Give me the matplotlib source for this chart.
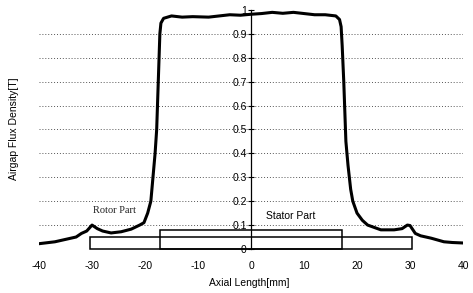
from matplotlib import pyplot as plt
from matplotlib.patches import Rectangle

# airgap flux density along the axial direction
AXIAL = [-40, -37, -35, -33, -32, -31, -30, -29, -28, -26.4, -24.5, -22.6,
         -21, -20.2, -19.5, -18.9, -18.5, -18.1, -17.8, -17.5, -17.2, -17.0,
         -16.5, -15, -13, -11, -8, -6, -4, -2, 0, 2, 4, 6, 8, 10, 12, 14, 16,
         16.7, 17.0, 17.2, 17.5, 17.9, 18.3, 18.8, 19.2, 20, 21, 22, 24.5, 27,
         28.5, 29.5, 30, 31, 32, 34, 36.4, 38, 40]
FLUX = [0.022, 0.03, 0.04, 0.05, 0.065, 0.075, 0.1, 0.085, 0.075, 0.067,
        0.072, 0.083, 0.1, 0.11, 0.15, 0.2, 0.3, 0.4, 0.5, 0.7, 0.9, 0.945,
        0.965, 0.975, 0.97, 0.972, 0.97, 0.975, 0.98, 0.978, 0.982, 0.985,
        0.99, 0.986, 0.99, 0.985, 0.98, 0.98, 0.975,
        0.96, 0.93, 0.85, 0.7, 0.45, 0.35, 0.25, 0.2, 0.15, 0.12, 0.1, 0.08,
        0.08, 0.085, 0.1, 0.098, 0.065, 0.055, 0.045, 0.03, 0.027, 0.025]

# core blocks: (start, end, height)
ROTOR = (-30.3, 30.3, 0.048)
STATOR = (-17.2, 17.2, 0.078)

XTICKS = [-40, -30, -20, -10, 0, 10, 20, 30, 40]
YTICKS = [0, 0.1, 0.2, 0.3, 0.4, 0.5, 0.6, 0.7, 0.8, 0.9, 1]
YTICKLABELS = ['0', '0.1', '0.2', '0.3', '0.4', '0.5', '0.6', '0.7', '0.8',
               '0.9', '1']

plt.rcParams['font.family'] = ['Liberation Sans', 'DejaVu Sans']

fig = plt.figure(figsize=(4.73, 2.93), dpi=100)
ax = fig.add_axes([0.0825, 0.134, 0.8964, 0.832])

for y in YTICKS[1:-1]:
    ax.plot([-40, 40], [y, y], color='#555555', lw=0.7, ls=(0, (1, 2)),
            zorder=1)

for x0, x1, h in (ROTOR, STATOR):
    ax.add_patch(Rectangle((x0, 0), x1 - x0, h, fill=False, ec='black',
                           lw=1.1, zorder=2))

ax.plot(AXIAL, FLUX, color='black', lw=2.2, zorder=3,
        solid_joinstyle='round', solid_capstyle='round')

ax.text(-29.8, 0.16, 'Rotor Part', family='Liberation Serif', fontsize=7.5,
        va='center', ha='left', color='#222222')
ax.text(2.8, 0.138, 'Stator Part', fontsize=7.5, va='center', ha='left')

ax.set_xlim(-40, 40)
ax.set_ylim(-0.02, 1.0)

for side in ('top', 'right', 'bottom'):
    ax.spines[side].set_visible(False)
ax.spines['left'].set_position(('data', 0))
ax.spines['left'].set_bounds(0, 1)
ax.spines['left'].set_linewidth(0.9)

ax.set_xticks(XTICKS)
ax.set_xticklabels([str(t) for t in XTICKS], fontsize=7.5)
ax.tick_params(axis='x', length=0, pad=5)
ax.set_yticks(YTICKS)
ax.set_yticklabels(YTICKLABELS, fontsize=7.5)
ax.tick_params(axis='y', direction='inout', length=4, width=0.8, pad=1)

fig.text(0.528, 0.035, 'Axial Length[mm]', fontsize=7.5, ha='center',
         va='center')
fig.text(0.03, 0.56, 'Airgap Flux Density[T]', fontsize=7.5, ha='center',
         va='center', rotation=90)

fig.savefig('out.png', dpi=100)
